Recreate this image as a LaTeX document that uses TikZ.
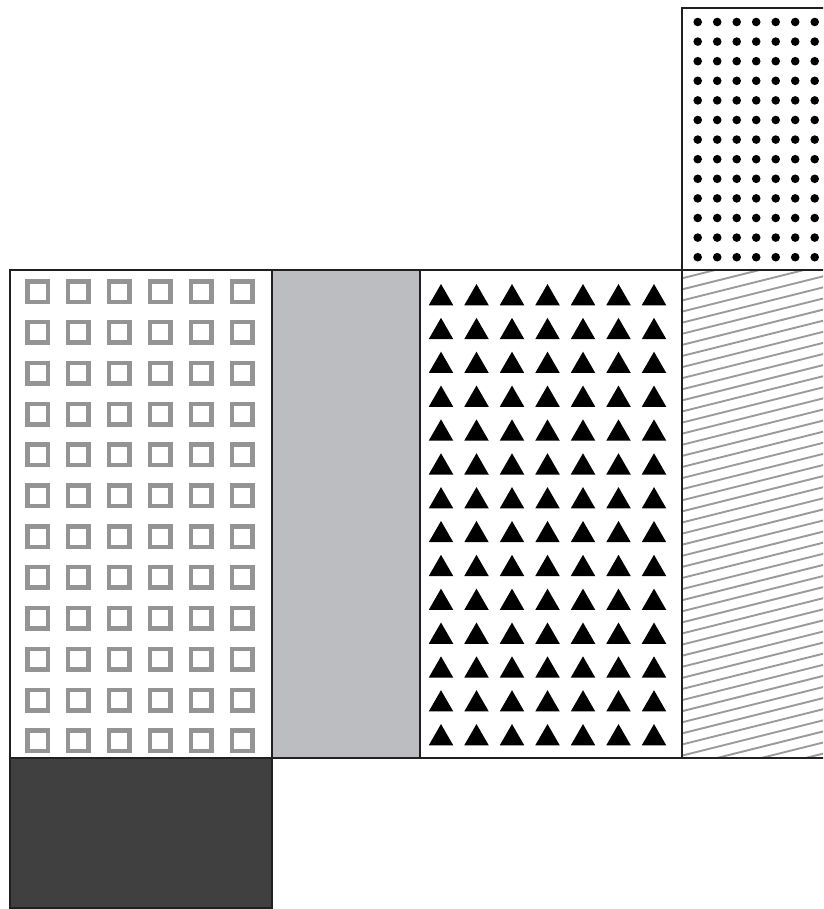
\documentclass[tikz,border=0pt]{standalone}
\definecolor{edge}{HTML}{231F20}
\definecolor{lightgray}{HTML}{BCBDC0}
\definecolor{darkfill}{HTML}{404040}
\definecolor{sqgray}{HTML}{949494}
\definecolor{hatchgray}{HTML}{9A9A9A}
\tikzset{
  boxline/.style={draw=edge,line width=2.6pt},
  sqmark/.style={draw=sqgray,line width=4.5pt},
  trimark/.style={fill=black},
  dotmark/.style={fill=black},
  hatchline/.style={draw=hatchgray,line width=1.9pt}
}
\begin{document}
\begin{tikzpicture}[x=1pt,y=-1pt]
\useasboundingbox (0,0) rectangle (823,909);
\begin{scope}
\clip (0,0) rectangle (823,909);
% fills
\fill[lightgray] (272,270) rectangle (420,758);
\fill[darkfill] (10,758) rectangle (272,908);
% hatch
\begin{scope}
\clip (682,270) rectangle (830,758);
\foreach \n in {-1,...,48} {
  \pgfmathsetmacro{\ya}{278.3+11.1*\n}
  \draw[hatchline] (682,\ya) -- (830,\ya-37);
}
\end{scope}
% dots
\foreach \r in {0,...,12} {
  \foreach \c in {0,...,6} {
    \fill[dotmark] (697.7+19.5*\c, 22+19.6*\r) circle[radius=4.3pt];
  }
}
% squares
\foreach \r in {0,...,11} {
  \foreach \c in {0,...,5} {
    \draw[sqmark] (37.5+40.9*\c-10.25, 291.5+40.85*\r-10.25) rectangle ++(20.5,20.5);
  }
}
% triangles
\foreach \r in {0,...,13} {
  \foreach \c in {0,...,6} {
    \fill[trimark] (441+35.5*\c, 284+33.85*\r) -- ++(12.25,21.25) -- ++(-24.5,0) -- cycle;
  }
}
% outlines
\coordinate (dtl) at (682,8);
\draw[boxline] (830,8) -- (dtl) -- (682,270);
\draw[boxline] (830,270) -- (10,270) -- (10,758) -- (830,758);
\draw[boxline] (272,270) -- (272,758);
\draw[boxline] (420,270) -- (420,758);
\draw[boxline] (682,270) -- (682,758);
\draw[boxline] (10,758) rectangle (272,908);
\end{scope}
\end{tikzpicture}
\end{document}
